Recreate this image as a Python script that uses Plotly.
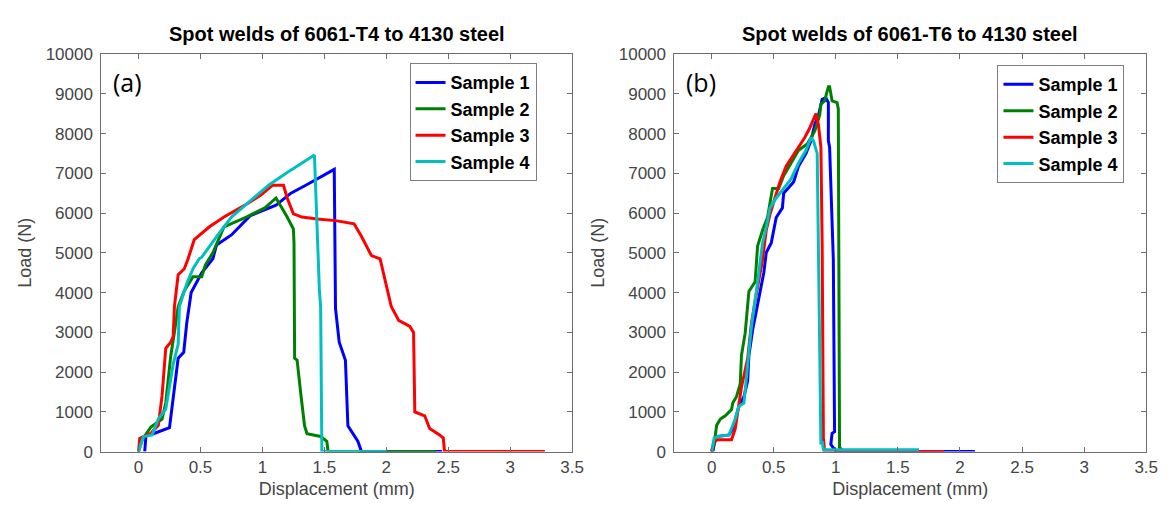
import plotly.graph_objects as go

# ---------------- data: (a) 6061-T4 ----------------
a_s1_x = [0.05, 0.06, 0.12, 0.2, 0.25, 0.29, 0.32, 0.365, 0.39, 0.425, 0.51, 0.6, 0.63, 0.75, 0.9, 1.11, 1.23, 1.35, 1.47, 1.58, 1.59, 1.62, 1.67, 1.69, 1.77, 1.8, 2.45]
a_s1_y = [0, 400, 450, 550, 600, 1600, 2350, 2500, 3250, 4000, 4500, 4850, 5200, 5450, 5930, 6200, 6500, 6700, 6900, 7100, 3600, 2750, 2300, 650, 260, 0, 0]

a_s2_x = [0, 0.03, 0.1, 0.19, 0.22, 0.26, 0.29, 0.32, 0.37, 0.44, 0.51, 0.54, 0.6, 0.69, 0.87, 1.02, 1.11, 1.16, 1.2, 1.25, 1.255, 1.26, 1.28, 1.31, 1.34, 1.36, 1.47, 1.52, 1.53, 2.4]
a_s2_y = [0, 300, 620, 820, 1230, 2400, 3000, 3650, 4050, 4400, 4400, 4700, 5000, 5650, 5900, 6130, 6380, 6130, 5900, 5600, 5250, 2350, 2300, 1450, 650, 450, 380, 260, 0, 0]

a_s3_x = [0, 0.01, 0.04, 0.1, 0.16, 0.19, 0.22, 0.26, 0.28, 0.29, 0.32, 0.37, 0.4, 0.45, 0.57, 0.69, 0.87, 0.99, 1.08, 1.17, 1.2, 1.25, 1.32, 1.44, 1.59, 1.74, 1.80, 1.88, 1.95, 1.98, 2.01, 2.04, 2.1, 2.19, 2.22, 2.23, 2.31, 2.35, 2.43, 2.46, 2.47, 3.28]
a_s3_y = [0, 330, 380, 460, 660, 1400, 2600, 2750, 2900, 3650, 4450, 4600, 4850, 5330, 5650, 5900, 6220, 6460, 6700, 6700, 6380, 5980, 5900, 5850, 5810, 5730, 5410, 4930, 4850, 4450, 4050, 3650, 3300, 3150, 3000, 1000, 900, 580, 420, 340, 0, 0]

a_s4_x = [0, 0.04, 0.11, 0.16, 0.22, 0.28, 0.32, 0.33, 0.39, 0.44, 0.49, 0.51, 0.63, 0.75, 0.9, 1.05, 1.2, 1.32, 1.4, 1.42, 1.46, 1.47, 1.48, 2.0]
a_s4_y = [0, 380, 420, 820, 1070, 2200, 2700, 3650, 4230, 4600, 4850, 4890, 5410, 5900, 6300, 6700, 7020, 7260, 7420, 7460, 4050, 3650, 0, 0]

# ---------------- data: (b) 6061-T6 ----------------
b_s1_x = [0.01, 0.02, 0.04, 0.14, 0.17, 0.22, 0.26, 0.29, 0.3, 0.33, 0.36, 0.39, 0.42, 0.44, 0.48, 0.52, 0.57, 0.58, 0.66, 0.7, 0.76, 0.8, 0.83, 0.86, 0.89, 0.92, 0.94, 0.94, 0.95, 0.98, 0.99, 0.97, 0.96, 1.0, 2.12]
b_s1_y = [0, 180, 380, 420, 580, 1140, 1380, 1780, 2420, 3060, 3540, 4030, 4500, 5010, 5250, 5890, 6130, 6500, 6780, 7180, 7500, 7820, 8220, 8460, 8860, 8900, 8780, 7820, 7660, 4830, 500, 460, 180, 0, 0]

b_s2_x = [0, 0.02, 0.04, 0.07, 0.11, 0.16, 0.17, 0.2, 0.23, 0.24, 0.27, 0.3, 0.35, 0.36, 0.37, 0.41, 0.45, 0.49, 0.54, 0.58, 0.64, 0.7, 0.77, 0.83, 0.87, 0.88, 0.91, 0.94, 0.95, 0.97, 1.01, 1.02, 1.03, 1.05]
b_s2_y = [0, 180, 660, 820, 900, 1060, 1220, 1380, 1700, 2420, 2980, 4030, 4270, 4830, 5170, 5570, 5890, 6620, 6620, 6940, 7260, 7580, 7740, 8060, 8460, 8740, 8820, 9180, 9180, 8820, 8780, 8620, 100, 50]

b_s3_x = [0, 0.02, 0.05, 0.16, 0.19, 0.22, 0.24, 0.29, 0.32, 0.35, 0.38, 0.41, 0.44, 0.47, 0.51, 0.55, 0.6, 0.66, 0.7, 0.75, 0.79, 0.82, 0.84, 0.86, 0.88, 0.89, 0.9, 0.91, 1.87]
b_s3_y = [0, 260, 300, 300, 580, 1220, 1620, 2340, 3220, 3790, 4350, 4830, 5570, 5970, 6380, 6780, 7180, 7460, 7660, 7900, 8140, 8380, 8500, 8220, 7660, 5250, 340, 0, 0]

b_s4_x = [0, 0.02, 0.05, 0.14, 0.19, 0.22, 0.26, 0.29, 0.32, 0.36, 0.39, 0.41, 0.44, 0.47, 0.52, 0.58, 0.64, 0.7, 0.76, 0.8, 0.82, 0.85, 0.86, 0.87, 0.88, 0.89, 0.9, 1.67]
b_s4_y = [0, 340, 380, 420, 820, 1140, 1220, 2180, 3140, 4030, 4830, 5250, 5650, 6130, 6380, 6620, 6860, 7260, 7580, 7900, 7820, 7500, 5250, 2420, 180, 260, 50, 50]

names = ["Sample 1", "Sample 2", "Sample 3", "Sample 4"]
colors = ["#0000ff", "#008000", "#ff0000", "#00bfbf"]
titles = ["Spot welds of 6061-T4 to 4130 steel", "Spot welds of 6061-T6 to 4130 steel"]
panel_labels = ["(a)", "(b)"]
x_ticks = [0, 0.5, 1, 1.5, 2, 2.5, 3, 3.5]
x_ticktext = ["0", "0.5", "1", "1.5", "2", "2.5", "3", "3.5"]
y_ticks = [0, 1000, 2000, 3000, 4000, 5000, 6000, 7000, 8000, 9000, 10000]
y_ticktext = ["0", "1000", "2000", "3000", "4000", "5000", "6000", "7000", "8000", "9000", "10000"]

panel_a = [(a_s1_x, a_s1_y), (a_s2_x, a_s2_y), (a_s3_x, a_s3_y), (a_s4_x, a_s4_y)]
panel_b = [(b_s1_x, b_s1_y), (b_s2_x, b_s2_y), (b_s3_x, b_s3_y), (b_s4_x, b_s4_y)]

W, H = 1171, 508
fig = go.Figure()

for p, (panel, xa, ya, lg) in enumerate([(panel_a, "x", "y", "legend"), (panel_b, "x2", "y2", "legend2")]):
    for i, (xs, ys) in enumerate(panel):
        fig.add_trace(go.Scatter(x=xs, y=ys, mode="lines", name=names[i],
                                 line=dict(color=colors[i], width=3),
                                 xaxis=xa, yaxis=ya, legend=lg))

TXT = "#454545"
LINE = "#6e6e6e"
FONT = "Liberation Sans, Arial, sans-serif"

def xax(dom, anchor):
    return dict(domain=dom, anchor=anchor, range=[-0.3, 3.5], tickvals=x_ticks, ticktext=x_ticktext,
                ticks="inside", ticklen=5, tickcolor=LINE, showline=True, linecolor=LINE, linewidth=1,
                mirror="ticks", showgrid=False, zeroline=False,
                tickfont=dict(family=FONT, size=17, color=TXT),
                title=dict(text="Displacement (mm)", font=dict(family=FONT, size=18, color=TXT), standoff=6))

def yax(anchor):
    return dict(domain=[1 - 451.5 / H, 1 - 38.5 / H], anchor=anchor, range=[0, 10000],
                tickvals=y_ticks, ticktext=y_ticktext,
                ticks="inside", ticklen=5, tickcolor=LINE, showline=True, linecolor=LINE, linewidth=1,
                mirror="ticks", showgrid=False, zeroline=False, ticklabelstandoff=4,
                tickfont=dict(family=FONT, size=17, color=TXT),
                title=dict(text="Load (N)", font=dict(family=FONT, size=18, color=TXT), standoff=9))

dom_a = [94.3 / W, 570 / W]
dom_b = [673.3 / W, 1150 / W]

legend_common = dict(bgcolor="white", bordercolor="#7f7f7f", borderwidth=1,
                     font=dict(family=FONT, size=18, color="black", weight="bold"),
                     xanchor="right", yanchor="top", tracegroupgap=0, itemwidth=30)

annotations = []
for k, dom in enumerate([dom_a, dom_b]):
    cx = (dom[0] + dom[1]) / 2
    annotations.append(dict(text="<b>" + titles[k] + "</b>", x=cx, y=1 - 18 / H, xref="paper", yref="paper",
                            xanchor="center", yanchor="middle", showarrow=False,
                            font=dict(family=FONT, size=20, color="black")))
    annotations.append(dict(text=panel_labels[k], x=dom[0] + 10 / W, y=1 - 68 / H, xref="paper", yref="paper",
                            xanchor="left", yanchor="middle", showarrow=False,
                            font=dict(family="Open Sans, sans-serif", size=25, color="black")))

fig.update_layout(
    width=W, height=H, autosize=False,
    margin=dict(l=0, r=0, t=0, b=0),
    paper_bgcolor="white", plot_bgcolor="white",
    xaxis=xax(dom_a, "y"), yaxis=yax("x"),
    xaxis2=xax(dom_b, "y2"), yaxis2=yax("x2"),
    legend=dict(x=534 / W, y=1 - 48 / H, **legend_common),
    legend2=dict(x=1128 / W, y=1 - 50 / H, **legend_common),
    annotations=annotations,
    showlegend=True,
)

fig.write_html("out.html")
